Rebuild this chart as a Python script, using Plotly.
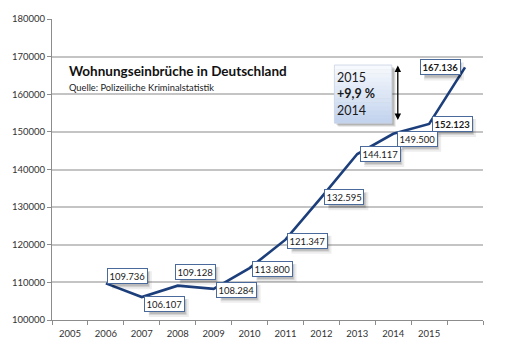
import plotly.graph_objects as go

# ---- data ----
x_labels = ["2005", "2006", "2007", "2008", "2009", "2010",
            "2011", "2012", "2013", "2014", "2015"]
# values as plotted (slot index 1..11; slot 11 has no year label)
slot_index = [1, 2, 3, 4, 5, 6, 7, 8, 9, 10, 11]
values = [109736, 106107, 109128, 108284, 113800, 121347,
          132595, 144117, 149500, 152123, 167136]
bold_labels = [False] * 9 + [True, True]
label_dx = [22, 23, 18, 23, 23, 22, 23, 23, 24, 23, -25]
label_dy = [7, -7, 14, -1, -1, -1, 0, 0, -5, 0, 0]
y_ticks = [100000, 110000, 120000, 130000, 140000, 150000, 160000, 170000, 180000]

W, H = 506, 351
L, R, T, B = 48, 483, 19, 320


def px(x):
    return (x - L) / (R - L)


def py(y):
    return (B - y) / (B - T)


LINE = "#1c3f7c"
FONT = "Lato, 'Open Sans', sans-serif"

fig = go.Figure()
fig.add_trace(go.Scatter(
    x=slot_index, y=values, mode="lines",
    line=dict(color=LINE, width=2.6), hoverinfo="skip", showlegend=False,
))

annotations = []
shapes = []
for xi, v, b, dx, dy in zip(slot_index, values, bold_labels, label_dx, label_dy):
    txt = f"{v:,}".replace(",", ".")
    if b:
        txt = f"<b>{txt}</b>"
    # soft shadow (pixel-sized shapes anchored at the data point)
    for k, grow, a in [(4, 2, 0.07), (3, 1, 0.10), (3, 0, 0.12)]:
        shapes.append(dict(
            type="rect", xref="x", yref="y", xsizemode="pixel", ysizemode="pixel",
            xanchor=xi, yanchor=v,
            x0=dx - 18 + k - grow, x1=dx + 18 + k + grow,
            y0=dy - 7 - k - grow, y1=dy + 7 - k + grow,
            line=dict(width=0), fillcolor=f"rgba(0,0,0,{a})", layer="above",
        ))
    annotations.append(dict(
        x=xi, y=v, xref="x", yref="y", text=txt, showarrow=False,
        xshift=dx, yshift=dy,
        font=dict(family=FONT, size=9.5, color="#1a1a1a"),
        bgcolor="white", borderpad=1.5, borderwidth=1, bordercolor="#4a6a9c",
    ))

# title
annotations.append(dict(
    x=px(63), y=py(71), xref="paper", yref="paper", xanchor="left", yanchor="middle",
    text="<b>Wohnungseinbrüche in Deutschland</b>", showarrow=False,
    font=dict(family=FONT, size=13.5, color="#111111"),
))
annotations.append(dict(
    x=px(63), y=py(88), xref="paper", yref="paper", xanchor="left", yanchor="middle",
    text="Quelle: Polizeiliche Kriminalstatistik", showarrow=False,
    font=dict(family=FONT, size=9.3, color="#222222"),
))

# change box texts
for t, yy, bold in [("2015", 77, False), ("+9,9 %", 94, True), ("2014", 110, False)]:
    annotations.append(dict(
        x=px(334), y=py(yy), xref="paper", yref="paper", xanchor="left", yanchor="middle",
        text=f"<b>{t}</b>" if bold else t, showarrow=False,
        font=dict(family=FONT, size=12.5, color="#1a1a1a"),
    ))

# double-headed arrow
annotations.append(dict(
    x=px(397), y=py(120), xref="paper", yref="paper",
    ax=0, ay=-56, axref="pixel", ayref="pixel",
    text="", showarrow=True, arrowhead=2, startarrowhead=2,
    arrowside="end+start", arrowsize=1, arrowwidth=1.3, arrowcolor="black",
))

# box shadow
for k, a in [(4, 0.08), (3, 0.12), (2, 0.12)]:
    shapes.append(dict(type="rect", xref="paper", yref="paper",
                       x0=px(333 + k), x1=px(391 + k), y0=py(123 + k), y1=py(65 + k),
                       line=dict(width=0), fillcolor=f"rgba(0,0,0,{a})", layer="above"))
# gradient box
n = 14
top_c = (246, 249, 253)
bot_c = (196, 212, 238)
for i in range(n):
    f = i / (n - 1)
    c = tuple(int(top_c[j] + (bot_c[j] - top_c[j]) * f) for j in range(3))
    y0p = 65 + (123 - 65) * i / n
    y1p = 65 + (123 - 65) * (i + 1) / n
    shapes.append(dict(type="rect", xref="paper", yref="paper",
                       x0=px(333), x1=px(391), y0=py(y1p + 0.5), y1=py(y0p),
                       line=dict(width=0), fillcolor=f"rgb{c}", layer="above"))
shapes.append(dict(type="rect", xref="paper", yref="paper",
                   x0=px(333), x1=px(391), y0=py(123), y1=py(65),
                   line=dict(width=0.8, color="#c9d3e3"), fillcolor="rgba(0,0,0,0)",
                   layer="above"))

fig.update_layout(
    width=W, height=H,
    margin=dict(l=L, r=W - R, t=T, b=H - B),
    paper_bgcolor="white", plot_bgcolor="white",
    annotations=annotations, shapes=shapes,
    xaxis=dict(
        range=[-0.5, 11.5], tickmode="array",
        tickvals=list(range(len(x_labels))), ticktext=x_labels,
        ticks="", showgrid=False, zeroline=False,
        showline=True, linecolor="#8c8c8c", linewidth=1.2,
        ticklabelstandoff=4,
        tickfont=dict(family=FONT, size=9.5, color="#333333"),
        minor=dict(tickvals=[i - 0.5 for i in range(13)], ticks="outside",
                   ticklen=4, tickcolor="#8c8c8c", tickwidth=1, showgrid=False),
    ),
    yaxis=dict(
        range=[100000, 180000], tickmode="array", tickvals=y_ticks,
        ticktext=[str(v) for v in y_ticks],
        ticks="outside", ticklen=4, tickcolor="#8c8c8c",
        showgrid=True, gridcolor="#c4c4c4", gridwidth=1.5,
        zeroline=False, showline=True, linecolor="#8c8c8c", linewidth=1.2,
        tickfont=dict(family=FONT, size=9.5, color="#333333"),
    ),
)

fig.write_html("out.html")
